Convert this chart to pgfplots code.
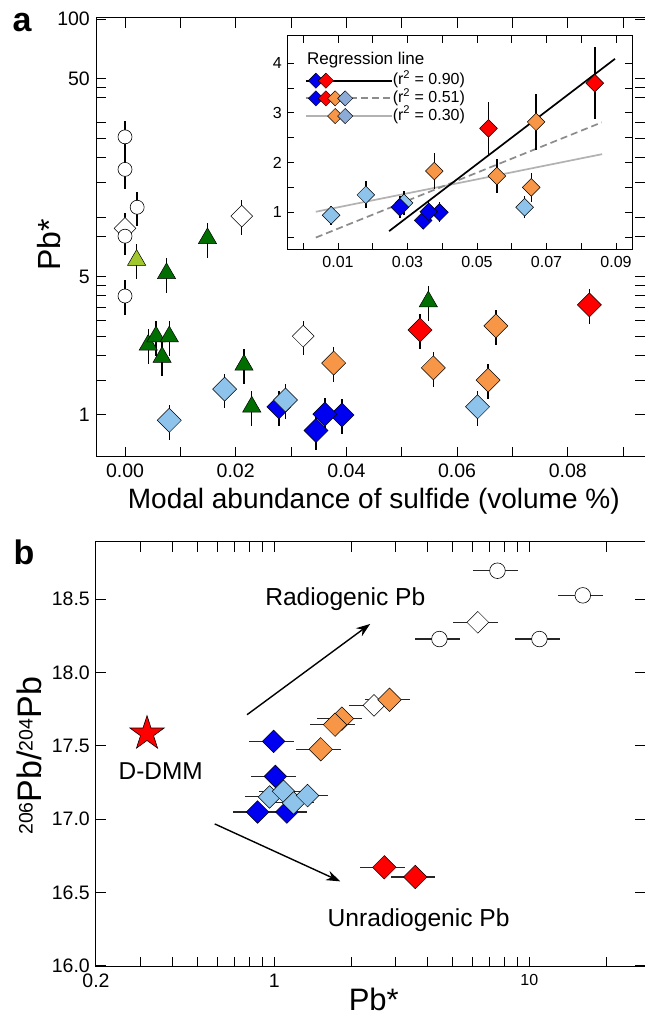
\documentclass[border=0pt]{standalone}
\usepackage{fontspec}
\setmainfont{Liberation Sans}
\usepackage{pgfplots}
\usepackage{pgfplotstable}
\pgfplotsset{compat=1.18}
\usetikzlibrary{arrows.meta}

\definecolor{dblue}{RGB}{0,0,240}
\definecolor{lblue}{RGB}{142,195,235}
\definecolor{lblueleg}{RGB}{140,172,215}
\definecolor{orng}{RGB}{247,150,70}
\definecolor{dgreen}{RGB}{0,110,0}
\definecolor{lgreen}{RGB}{160,200,45}
\definecolor{regdash}{RGB}{140,140,140}
\definecolor{reglight}{RGB}{178,178,178}

\pgfdeclareplotmark{fstar}{%
  \pgfpathmoveto{\pgfqpointpolar{90}{\pgfplotmarksize}}%
  \pgfpathlineto{\pgfqpointpolar{126}{0.382\pgfplotmarksize}}%
  \pgfpathlineto{\pgfqpointpolar{162}{\pgfplotmarksize}}%
  \pgfpathlineto{\pgfqpointpolar{198}{0.382\pgfplotmarksize}}%
  \pgfpathlineto{\pgfqpointpolar{234}{\pgfplotmarksize}}%
  \pgfpathlineto{\pgfqpointpolar{270}{0.382\pgfplotmarksize}}%
  \pgfpathlineto{\pgfqpointpolar{306}{\pgfplotmarksize}}%
  \pgfpathlineto{\pgfqpointpolar{342}{0.382\pgfplotmarksize}}%
  \pgfpathlineto{\pgfqpointpolar{18}{\pgfplotmarksize}}%
  \pgfpathlineto{\pgfqpointpolar{54}{0.382\pgfplotmarksize}}%
  \pgfpathclose
  \pgfusepathqfillstroke}

% ---------- panel a data (x = modal abundance, y = Pb*) ----------
\pgfplotstableread{
x y
0.008 0.94
0.018 1.35
0.029 1.19
0.0637 1.10
}\lbluedata
\pgfplotstableread{
x y
0.0278 1.10
0.0345 0.835
0.0392 1.00
0.0361 1.01
}\dbluedata
\pgfplotstableread{
x y
0.0377 1.83
0.0557 1.73
0.0670 2.82
0.0656 1.50
}\orangedata
\pgfplotstableread{
x y
0.0533 2.69
0.0839 3.60
}\reddata
\pgfplotstableread{
x y
0 25.4
0 17.4
0.0022 11.2
0 8.0
0 3.99
}\opencircdata
\pgfplotstableread{
x y
0 8.77
0.0211 10.1
0.0322 2.5
}\opendiadata
\pgfplotstableread{
x y
0.0149 7.8
0.0075 5.19
0.0042 2.26
0.0056 2.49
0.0080 2.49
0.0067 1.96
0.0215 1.79
0.0229 1.10
0.0548 3.74
}\dgreendata
\pgfplotstableread{
x y
0.0021 6.06
}\lgreendata

% ---------- panel b data (x = Pb*, y = 206Pb/204Pb) ----------
\pgfplotstableread{
x y
0.317 17.583
}\ddmmdata
\pgfplotstableread{
x y
0.994 17.53
1.01 17.291
0.86 17.048
1.12 17.048
}\bdblue
\pgfplotstableread{
x y
0.958 17.151
1.087 17.189
1.19 17.11
1.35 17.16
}\bdlblue
\pgfplotstableread{
x y
2.46 17.776
6.28 18.342
}\bdopendia
\pgfplotstableread{
x y
1.52 17.476
1.84 17.685
1.73 17.644
2.83 17.814
}\bdorange
\pgfplotstableread{
x y
7.50 18.694
16.2 18.526
4.44 18.228
10.95 18.228
}\bdopencirc
\pgfplotstableread{
x y
2.70 16.671
3.57 16.605
}\bdred

\pgfplotsset{
  myaxis/.style={scale only axis, axis line style={line width=1pt},
    tick align=inside, tick pos=both,
    scaled x ticks=false, scaled y ticks=false,
    major tick length=10pt, minor tick length=10pt,
    tick style={line width=1pt, black},
    minor tick style={line width=1pt, black}},
  yerr/.style={forget plot, only marks, mark=none,
    error bars/y dir=both, error bars/y fixed relative=0.2,
    error bars/error mark=none,
    error bars/error bar style={draw=black, solid, line width=1.4pt}},
  xerr/.style={forget plot, only marks, mark=none,
    error bars/x dir=both, error bars/x fixed relative=0.2,
    error bars/error mark=none,
    error bars/error bar style={draw=black!85, solid, line width=1.1pt}},
  dia/.style 2 args={forget plot, only marks, mark=square*, mark size=#2,
    mark options={rotate=45, fill=#1, draw=black, line width=0.5pt}},
  circ/.style={forget plot, only marks, mark=*, mark size=#1,
    mark options={fill=white, draw=black, line width=0.6pt}},
  tri/.style={forget plot, only marks, mark=triangle*, mark size=10.5pt,
    mark options={fill=#1, draw=black, line width=0.5pt}},
}

\newcommand{\legdia}[2]{\filldraw[fill=#2, draw=black, line width=0.4pt]
  (#1pt,7.6pt) -- ++(7.6pt,-7.6pt) -- ++(-7.6pt,-7.6pt) -- ++(-7.6pt,7.6pt) -- cycle;}

\begin{document}
\begin{tikzpicture}
\useasboundingbox (0pt,0pt) rectangle (645pt,1015pt);

% ================= panel a =================
\begin{axis}[myaxis, at={(96pt,558pt)}, anchor=south west,
  width=549pt, height=439pt,
  xmin=-0.00524, xmax=0.09395, ymode=log, ymin=0.6136, ymax=101.2,
  xtick={0,0.02,0.04,0.06,0.08}, xticklabels={0.00,0.02,0.04,0.06,0.08},
  minor xtick={0.01,0.03,0.05,0.07,0.09},
  ytick={1,5,50,100}, yticklabels={1,5,50,100},
  minor ytick={1.5,2,2.5,3,3.5,4,4.5,8,10,15,20,25,30,40,45},
  xticklabel style={font=\fontsize{19.5}{20}\selectfont, inner sep=0pt, anchor=north, yshift=-7pt},
  yticklabel style={font=\fontsize{19.5}{20}\selectfont, inner sep=0pt, anchor=east, xshift=-6pt},
  xlabel={Modal abundance of sulfide (volume \%)},
  xlabel style={font=\fontsize{28}{30}\selectfont, at={(axis description cs:0.506,-0.1162)}, anchor=base, inner sep=0pt},
]
% error bars first (behind the symbols)
\addplot[yerr] table {\opendiadata};
\addplot[yerr] table {\opencircdata};
\addplot[yerr] table {\dgreendata};
\addplot[yerr] table {\lgreendata};
\addplot[yerr] table {\dbluedata};
\addplot[yerr] table {\lbluedata};
\addplot[yerr] table {\orangedata};
\addplot[yerr] table {\reddata};
% symbols
\addplot[dia={white}{7.7pt}] table {\opendiadata};
\addplot[circ=7pt] table {\opencircdata};
\addplot[tri=dgreen] table {\dgreendata};
\addplot[tri=lgreen] table {\lgreendata};
\addplot[dia={dblue}{8.5pt}] table {\dbluedata};
\addplot[dia={lblue}{8.5pt}] table {\lbluedata};
\addplot[dia={orng}{8.5pt}] table {\orangedata};
\addplot[dia={red}{8.5pt}] table {\reddata};
\end{axis}
% y label of panel a
\node[rotate=90, anchor=base, inner sep=0pt, font=\fontsize{32}{34}\selectfont] at (60pt,770pt) {Pb*};

% ================= inset =================
\begin{axis}[myaxis, at={(287pt,765pt)}, anchor=south west,
  width=345pt, height=214pt,
  axis background/.style={fill=white},
  xmin=-0.00469, xmax=0.0946, ymin=0.24, ymax=4.55,
  major tick length=7pt, minor tick length=7pt,
  xtick={0.01,0.03,0.05,0.07,0.09}, xticklabels={0.01,0.03,0.05,0.07,0.09},
  minor xtick={0,0.02,0.04,0.06,0.08},
  ytick={1,2,3,4}, yticklabels={1,2,3,4}, minor ytick={0.5,1.5,2.5,3.5},
  xticklabel style={font=\fontsize{16}{17}\selectfont, inner sep=0pt, anchor=north, yshift=-6.5pt},
  yticklabel style={font=\fontsize{16}{17}\selectfont, inner sep=0pt, anchor=east, xshift=-5pt},
  legend cell align=left,
  legend style={at={(axis description cs:0.0522,0.8325)}, anchor=north west,
    draw=none, fill=none, inner sep=0pt, outer sep=0pt, row sep=0pt,
    font=\fontsize{16}{16}\selectfont,
    nodes={inner sep=0pt, text height=13pt, text depth=4.7pt}},
]
\addplot[forget plot, reglight, line width=1.7pt] coordinates {(0.0036,1.01) (0.086,2.17)};
\addplot[forget plot, regdash, line width=1.7pt, dash pattern=on 7pt off 4pt] coordinates {(0.0036,0.49) (0.0859,2.81)};
\addplot[forget plot, black, line width=1.7pt] coordinates {(0.0247,0.62) (0.0897,4.09)};
\addplot[yerr] table {\lbluedata};
\addplot[yerr] table {\dbluedata};
\addplot[yerr] table {\orangedata};
\addplot[yerr] table {\reddata};
\addplot[dia={lblue}{6.25pt}] table {\lbluedata};
\addplot[dia={dblue}{6.25pt}] table {\dbluedata};
\addplot[dia={orng}{6.25pt}] table {\orangedata};
\addplot[dia={red}{6.25pt}] table {\reddata};

\addlegendimage{legend image code/.code={
  \draw[black, line width=1.8pt] (0pt,0pt) -- (86pt,0pt);
  \legdia{10}{dblue}\legdia{20}{red}}}
\addlegendentry{(r\textsuperscript{2} = 0.90)}
\addlegendimage{legend image code/.code={
  \draw[regdash, line width=1.8pt, dash pattern=on 7pt off 4pt] (0pt,0pt) -- (86pt,0pt);
  \legdia{10}{dblue}\legdia{20}{red}\legdia{29.3}{orng}\legdia{39.3}{lblueleg}}}
\addlegendentry{(r\textsuperscript{2} = 0.51)}
\addlegendimage{legend image code/.code={
  \draw[reglight, line width=1.8pt] (0pt,0pt) -- (86pt,0pt);
  \legdia{29.3}{orng}\legdia{39.3}{lblueleg}}}
\addlegendentry{(r\textsuperscript{2} = 0.30)}

\node[anchor=base west, inner sep=0pt, font=\fontsize{17}{17}\selectfont]
  at (axis description cs:0.058,0.8645) {Regression line};
\end{axis}

% ================= panel b =================
\begin{axis}[myaxis, at={(96pt,48.3pt)}, anchor=south west,
  width=549pt, height=425pt,
  xmode=log, xmin=0.2, xmax=28.4, ymin=15.993, ymax=18.892,
  xtick={0.2,1,10}, xticklabels={0.2,1,{\fontsize{16}{16}\selectfont 10}},
  minor xtick={0.3,0.4,0.5,0.6,0.7,0.8,0.9,2,3,4,5,6,7,8,9,20},
  ytick={16,16.5,17,17.5,18,18.5}, yticklabels={16.0,16.5,17.0,17.5,18.0,18.5},
  xticklabel style={font=\fontsize{19.5}{20}\selectfont, inner sep=0pt, anchor=north, yshift=-7pt},
  yticklabel style={font=\fontsize{19.5}{20}\selectfont, inner sep=0pt, anchor=east, xshift=-6pt},
  xlabel={Pb*},
  xlabel style={font=\fontsize{31}{33}\selectfont, at={(axis description cs:0.506,-0.1019)}, anchor=base, inner sep=0pt},
  ylabel={\raisebox{9pt}{\fontsize{19.5}{20}\selectfont 206}Pb/\raisebox{9pt}{\fontsize{19.5}{20}\selectfont 204}Pb},
  ylabel style={font=\fontsize{34}{36}\selectfont, at={(axis description cs:-0.0989,0.496)}, anchor=base, inner sep=0pt},
]
\draw[line width=1.4pt, -{Stealth[length=14pt, width=10pt]}] (axis cs:0.782,17.712) -- (axis cs:2.377,18.331);
\draw[line width=1.4pt, -{Stealth[length=14pt, width=10pt]}] (axis cs:0.584,16.967) -- (axis cs:1.814,16.575);
\addplot[xerr] table {\bdblue};
\addplot[xerr] table {\bdlblue};
\addplot[xerr] table {\bdopendia};
\addplot[xerr] table {\bdorange};
\addplot[xerr] table {\bdopencirc};
\addplot[xerr] table {\bdred};
\addplot[forget plot, only marks, mark=fstar, mark size=18pt, mark options={fill=red, draw=black, line width=0.6pt}] table {\ddmmdata};
\addplot[dia={dblue}{8pt}] table {\bdblue};
\addplot[dia={lblue}{8pt}] table {\bdlblue};
\addplot[dia={white}{7.7pt}] table {\bdopendia};
\addplot[dia={orng}{8.3pt}] table {\bdorange};
\addplot[circ=7.8pt] table {\bdopencirc};
\addplot[dia={red}{8.3pt}] table {\bdred};
\node[anchor=base west, inner sep=0pt, font=\fontsize{24.6}{26}\selectfont] at (axis cs:0.92,18.456) {Radiogenic Pb};
\node[anchor=base west, inner sep=0pt, font=\fontsize{24.6}{26}\selectfont] at (axis cs:1.617,16.268) {Unradiogenic Pb};
\node[anchor=base west, inner sep=0pt, font=\fontsize{24.4}{26}\selectfont] at (axis cs:0.245,17.269) {D-DMM};
\end{axis}

\node[anchor=base west, inner sep=0pt, font=\bfseries\fontsize{34}{36}\selectfont] at (12.5pt,983pt) {a};
\node[anchor=base west, inner sep=0pt, font=\bfseries\fontsize{34}{36}\selectfont] at (13.5pt,450pt) {b};
\end{tikzpicture}
\end{document}
